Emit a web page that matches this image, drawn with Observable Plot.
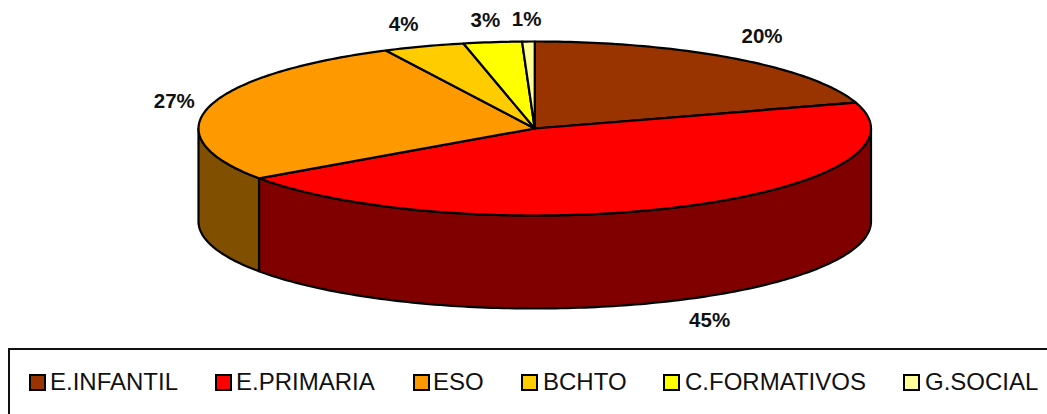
<!DOCTYPE html>
<html>
<head>
<meta charset="utf-8">
<script src="https://cdn.jsdelivr.net/npm/d3@7"></script>
<script src="https://cdn.jsdelivr.net/npm/@observablehq/plot@0.6"></script>
<style>
html,body{margin:0;padding:0;background:#fff;width:1047px;height:414px;overflow:hidden;}
#chart svg{display:block;background:#fff;}
#legend{position:relative;width:1047px;height:66px;overflow:hidden;font-family:"Liberation Sans",Arial,sans-serif;font-size:24px;color:#111;}
#legend .box{position:absolute;left:8px;top:0;width:1100px;height:100px;border:2px solid #111;box-sizing:border-box;}
#legend .sw{position:absolute;top:26px;width:17px;height:17px;border:2.5px solid #000;box-sizing:border-box;}
#legend .lb{position:absolute;top:21px;line-height:26px;white-space:nowrap;}
</style>
</head>
<body>
<div id="chart"></div>
<div id="legend"></div>
<script>
const categories = ["E.INFANTIL", "E.PRIMARIA", "ESO", "BCHTO", "C.FORMATIVOS", "G.SOCIAL"];
const values = [20.2, 45.1, 27.4, 3.9, 2.8, 0.6];
const colors = ["#993300", "#ff0000", "#ff9900", "#ffcc00", "#ffff00", "#ffff99"];
const sideColors = ["#4d1a00", "#800000", "#804f00", "#806600", "#808000", "#80804d"];
const labelX = [0.676, 0.52, -1.072, -0.390, -0.147, -0.024];
const labelY = [1.057, -2.204, 0.31, 1.197, 1.243, 1.255];
const legendSwatchX = [29, 215, 413, 521, 663, 903];
const legendTextX = [50, 236, 433, 543, 685, 925];

const depth = 1.069;
const total = d3.sum(values);
const rim = (deg, drop = 0) => {
  const r = deg * Math.PI / 180;
  return {x: Math.sin(r), y: Math.cos(r) - drop};
};
const arc = (from, to, drop = 0) => {
  const n = Math.max(1, Math.ceil(Math.abs(to - from)));
  return d3.range(n + 1).map((i) => rim(from + (to - from) * i / n, drop));
};

const tops = [], sides = [];
let acc = 0;
categories.forEach((name, i) => {
  const a0 = acc / total * 360;
  acc += values[i];
  const a1 = acc / total * 360;
  [{x: 0, y: 0}, ...arc(a0, a1), {x: 0, y: 0}].forEach((p) =>
    tops.push({...p, key: name, color: colors[i]}));
  const s0 = Math.max(a0, 90), s1 = Math.min(a1, 270);
  if (s1 > s0) {
    const ring = [...arc(s0, s1), ...arc(s1, s0, depth)];
    [...ring, ring[0]].forEach((p) => sides.push({...p, key: name, color: sideColors[i]}));
  }
});
const labels = categories.map((name, i) => ({
  x: labelX[i], y: labelY[i], text: Math.round(values[i]) + "%"
}));

const chart = Plot.plot({
  width: 1047,
  height: 348,
  margin: 0,
  x: {domain: [-1, 1], range: [198, 870.5], axis: null},
  y: {domain: [1, -1], range: [41, 215], axis: null},
  color: {type: "identity"},
  marks: [
    Plot.line(sides, {x: "x", y: "y", z: "key", fill: "color", stroke: "#000", strokeWidth: 2.2}),
    Plot.line(tops, {x: "x", y: "y", z: "key", fill: "color", stroke: "#000", strokeWidth: 2.2}),
    Plot.text(labels, {
      x: "x", y: "y", text: "text", fill: "#111",
      fontFamily: "'Liberation Sans', Arial, sans-serif",
      fontSize: 20.5, fontWeight: "bold"
    })
  ]
});
document.getElementById("chart").append(chart);

const legend = d3.select("#legend");
legend.append("div").attr("class", "box");
categories.forEach((name, i) => {
  legend.append("div").attr("class", "sw")
    .style("left", legendSwatchX[i] + "px").style("background", colors[i]);
  legend.append("div").attr("class", "lb")
    .style("left", legendTextX[i] + "px").text(name);
});
</script>
</body>
</html>
